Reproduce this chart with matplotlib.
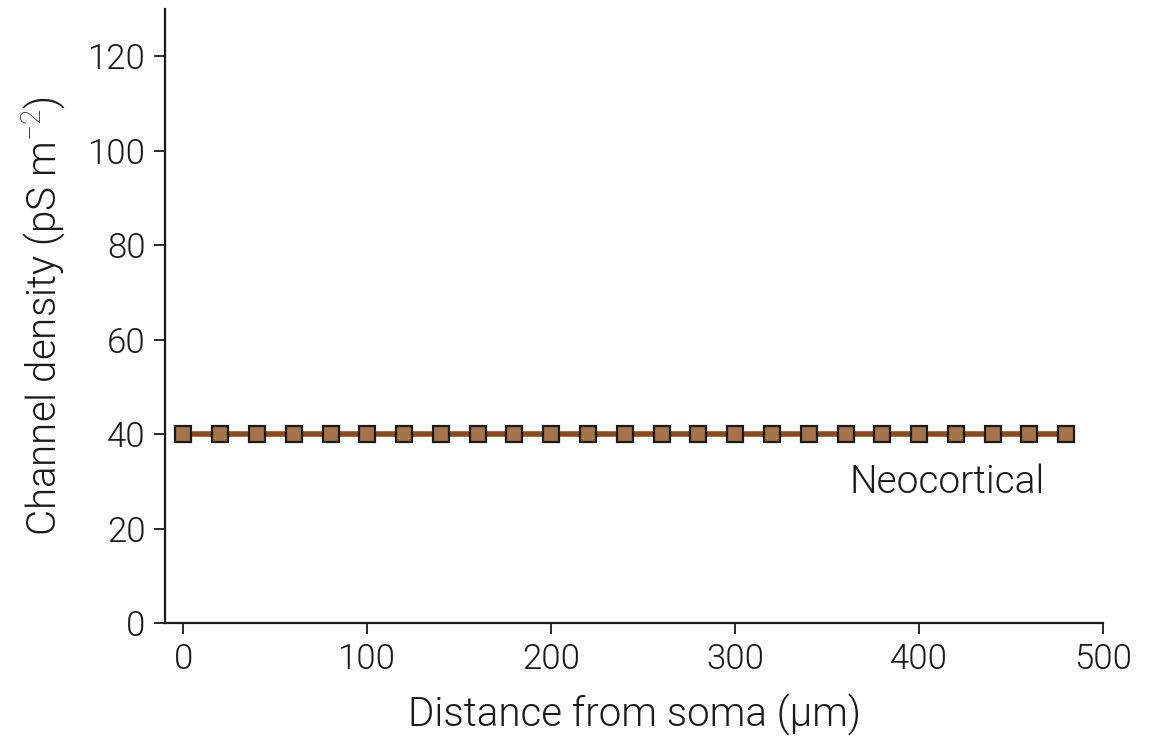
import matplotlib
matplotlib.use("Agg")
import matplotlib.pyplot as plt
import numpy as np

plt.rcParams['font.family'] = ['Roboto', 'DejaVu Sans']
plt.rcParams['font.weight'] = 300
plt.rcParams['axes.labelweight'] = 300
plt.rcParams['mathtext.fontset'] = 'custom'
plt.rcParams['mathtext.rm'] = 'Roboto:light'

distance = [0, 20, 40, 60, 80, 100, 120, 140, 160, 180, 200, 220, 240,
            260, 280, 300, 320, 340, 360, 380, 400, 420, 440, 460, 480]
density = [40] * len(distance)
xticks = [0, 100, 200, 300, 400, 500]
yticks = [0, 20, 40, 60, 80, 100, 120]

fig = plt.figure(figsize=(11.51, 7.43), dpi=100)
ax = fig.add_axes([0.1434, 0.1615, 0.8149, 0.8264])

ax.plot(distance, density, color='#8B4A1E', lw=4, marker='s', ms=11.5,
        mfc='#A5734A', mec='#1a1a1a', mew=1.6, zorder=3)

ax.text(362, 27.6, 'Neocortical', fontsize=28, color='#1a1a1a', fontweight=300)

ax.set_xlim(-10, 500)
ax.set_ylim(0, 130)
ax.set_xticks(xticks)
ax.set_yticks(yticks)
ax.tick_params(axis='both', direction='out', length=8, width=1.3, labelsize=25,
               colors='#1a1a1a', pad=6)
for lab in ax.get_xticklabels() + ax.get_yticklabels():
    lab.set_fontweight(300)
for s in ['top', 'right']:
    ax.spines[s].set_visible(False)
for s in ['left', 'bottom']:
    ax.spines[s].set_linewidth(1.6)
    ax.spines[s].set_color('#1a1a1a')

ax.set_xlabel('Distance from soma (μm)', fontsize=29, labelpad=12, color='#1a1a1a', fontweight=300)
ax.set_ylabel('Channel density (pS m$^{-2}$)', fontsize=29, labelpad=14, color='#1a1a1a', fontweight=300)

fig.savefig('out.png', dpi=100)
